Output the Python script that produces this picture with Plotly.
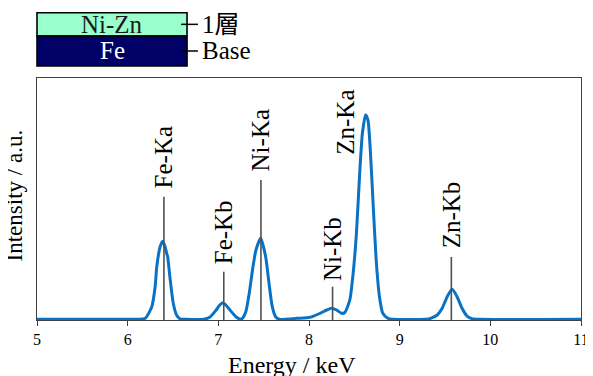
import plotly.graph_objects as go

# ---- data ----
energy_kev = [5.00, 6.00, 6.121, 6.194, 6.266, 6.303, 6.321, 6.358, 6.386, 6.413, 6.430, 6.441,
              6.467, 6.503, 6.539, 6.580, 6.634, 6.840, 6.904, 6.976, 7.016, 7.049, 7.082, 7.122,
              7.194, 7.249, 7.267, 7.303, 7.341, 7.377, 7.415, 7.467, 7.522, 7.559, 7.595, 7.631,
              7.671, 7.868, 8.013, 8.122, 8.196, 8.250, 8.304, 8.359, 8.395, 8.450, 8.487, 8.523,
              8.559, 8.589, 8.624, 8.650, 8.676, 8.705, 8.741, 8.777, 8.814, 8.869, 8.924, 9.287,
              9.342, 9.415, 9.469, 9.524, 9.579, 9.633, 9.688, 9.742, 9.797, 9.887, 11.00]
intensity = [0.7, 0.7, 0.7, 1.7, 13.3, 33.3, 53.3, 73.3, 78.7, 73.3, 66.7, 63.3,
             42.0, 16.7, 5.0, 1.0, 0.7, 0.7, 2.7, 10.0, 15.0, 17.3, 15.0, 10.7,
             3.3, 0.7, 1.7, 8.3, 26.7, 50.0, 70.0, 81.7, 63.3, 36.7, 13.3, 3.3,
             0.7, 1.7, 2.7, 6.7, 10.0, 11.7, 10.0, 6.7, 7.5, 20.0, 46.7, 86.7,
             146.7, 186.7, 205.0, 200.0, 170.0, 120.0, 60.0, 23.3, 6.7, 1.7, 0.7, 0.7,
             1.7, 5.0, 11.7, 23.3, 30.7, 23.3, 11.7, 4.0, 1.3, 0.7, 0.7]

peak_names = ["Fe-Ka", "Fe-Kb", "Ni-Ka", "Ni-Kb", "Zn-Ka", "Zn-Kb"]
peak_energy = [6.40, 7.06, 7.47, 8.26, 8.40, 9.57]
peak_has_line = [True, True, True, True, False, True]

x_ticks = [5, 6, 7, 8, 9, 10, 11]
layer_names = ["Ni-Zn", "Fe"]
layer_tags = ["1層", "Base"]

# ---- layout helpers (positions) ----
label_center_y = [162.5, 87.5, 179.5, 70.5, 197.5, 105.0]
line_top_y = [123.3, 48.3, 140.0, 33.3, None, 63.0]

SERIF = "Liberation Serif"
SERIF_CJK = "Liberation Serif, Noto Sans CJK JP"

fig = go.Figure()
fig.add_trace(go.Scatter(
    x=energy_kev, y=intensity, mode="lines",
    line=dict(color="#0a72c4", width=3, shape="spline", smoothing=0.6),
    hoverinfo="skip", showlegend=False))

shapes = []
annotations = []
for name, e, has_line, ly, ty in zip(peak_names, peak_energy, peak_has_line,
                                      label_center_y, line_top_y):
    if has_line:
        shapes.append(dict(type="line", xref="x", yref="y", x0=e, x1=e, y0=0, y1=ty,
                           line=dict(color="#505050", width=1.6)))
    annotations.append(dict(x=e, y=ly, xref="x", yref="y", text=name, showarrow=False,
                            textangle=-90, xanchor="center", yanchor="middle",
                            font=dict(family=SERIF, size=25, color="black")))

# Layer diagram
box_x0, box_x1 = 0.0, 0.2758
ys = [1.2698, 1.1736, 1.0496]
fills = ["#99ffcc", "#000066"]
text_cols = ["#1a1a1a", "white"]
for i in range(2):
    shapes.append(dict(type="rect", xref="paper", yref="paper", x0=box_x0, x1=box_x1,
                       y0=ys[i + 1], y1=ys[i], fillcolor=fills[i],
                       line=dict(color="black", width=1.6)))
    yc = (ys[i] + ys[i + 1]) / 2
    annotations.append(dict(x=(box_x0 + box_x1) / 2, y=yc, xref="paper", yref="paper",
                            text=layer_names[i], showarrow=False, xanchor="center",
                            yanchor="middle",
                            font=dict(family=SERIF, size=25, color=text_cols[i])))
    shapes.append(dict(type="line", xref="paper", yref="paper", x0=0.2649, x1=0.2958,
                       y0=yc, y1=yc, line=dict(color="black", width=1.5)))
    annotations.append(dict(x=0.300, y=yc, xref="paper", yref="paper",
                            text=layer_tags[i], showarrow=False, xanchor="left",
                            yanchor="middle",
                            font=dict(family=SERIF_CJK, size=25, color="black")))

# Axis titles
annotations.append(dict(x=0.4685, y=-0.186, xref="paper", yref="paper", text="Energy / keV",
                        showarrow=False, xanchor="center", yanchor="middle",
                        font=dict(family=SERIF, size=24, color="black")))
annotations.append(dict(x=-0.0405, y=0.5145, xref="paper", yref="paper",
                        text="Intensity / a.u.", showarrow=False, textangle=-90,
                        xanchor="center", yanchor="middle",
                        font=dict(family=SERIF, size=23, color="black")))

fig.update_layout(
    width=593, height=376,
    margin=dict(l=29, r=14, t=70, b=64),
    paper_bgcolor="white", plot_bgcolor="white",
    font=dict(family=SERIF),
    shapes=shapes, annotations=annotations,
    xaxis=dict(range=[5, 11], tickvals=x_ticks, ticktext=[str(t) for t in x_ticks],
               ticks="outside", ticklen=5, tickcolor="#404040", tickwidth=1,
               showline=True, linecolor="#404040", linewidth=1, mirror=True,
               showgrid=False, zeroline=False,
               tickfont=dict(family=SERIF, size=16, color="black")),
    yaxis=dict(range=[0, 242], showticklabels=False, ticks="", showgrid=False,
               zeroline=False, showline=True, linecolor="#404040", linewidth=1,
               mirror=True),
)

fig.write_html("out.html")
